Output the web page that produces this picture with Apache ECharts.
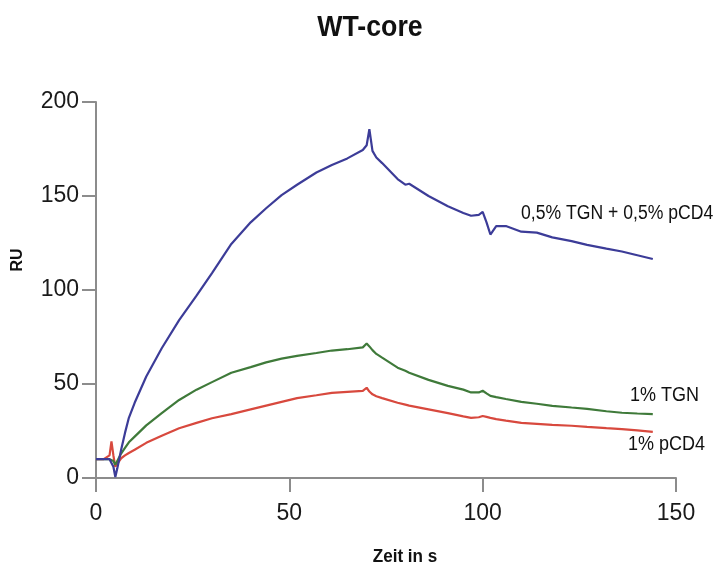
<!DOCTYPE html>
<html>
<head>
<meta charset="utf-8">
<script src="https://cdn.jsdelivr.net/npm/echarts@6/dist/echarts.min.js"></script>
<style>html,body{margin:0;padding:0;background:#fff}#c{width:722px;height:568px}</style>
</head>
<body>
<div id="c"></div>
<script>
var timeS = [0, 2, 3.5, 4, 4.5, 5, 5.5, 6, 6.5, 7.5, 8.5, 10, 13, 17, 21.5, 26, 30, 35, 40, 44, 48, 52, 57, 61, 65, 69, 70, 70.7, 71.5, 72.5, 74, 78, 80, 81, 86, 91, 95, 97, 99, 100, 101, 102, 103.5, 106, 110, 114, 118, 123, 127, 132, 136, 140, 144];
var mixRU = [10, 10, 10, 9.5, 6, 0.5, 5, 10, 15, 24, 32, 40, 54, 69, 84, 97, 109, 124.5, 136, 143.5, 150.5, 156, 162.5, 166.5, 170, 174.5, 177, 185.5, 174, 170.5, 167.5, 159, 156, 156.5, 150, 144.5, 141, 139.5, 140, 141.5, 136, 129.5, 134, 134, 131, 130.5, 128, 126, 124, 122, 120.5, 118.5, 116.5];
var tgnRU = [10, 10, 10, 10, 9, 7, 8, 11, 13, 16, 19, 22, 28, 34.5, 41.5, 47, 51, 56, 59, 61.5, 63.5, 65, 66.5, 67.8, 68.5, 69.5, 71.5, 70, 68, 66, 64, 58.7, 57, 56, 52.2, 49, 47, 45.5, 45.5, 46.4, 45, 43.7, 43, 42, 40.5, 39.5, 38.4, 37.5, 36.8, 35.5, 34.7, 34.3, 34];
var pcd4RU = [10, 10, 12, 19.5, 12, 6, 7, 9, 10.5, 12, 13.3, 15, 18.7, 22.5, 26.5, 29.3, 31.8, 34, 36.5, 38.5, 40.5, 42.5, 44, 45.3, 45.8, 46.3, 48, 46, 44.5, 43.5, 42.5, 40, 39, 38.5, 36.5, 34.5, 32.8, 32, 32.3, 33, 32.5, 32, 31.3, 30.5, 29.3, 28.8, 28.3, 27.8, 27.2, 26.5, 26, 25.3, 24.5];
var seriesNames = ['0,5% TGN + 0,5% pCD4', '1% TGN', '1% pCD4'];
var xTicks = [0, 50, 100, 150];
var yTicks = [0, 50, 100, 150, 200];

function pairs(vals){ return timeS.map(function(t,i){ return [t, vals[i]]; }); }

var FONT = "'Liberation Sans', Arial, sans-serif";
var axisGray = '#8c8c8c';
var chart = echarts.init(document.getElementById('c'), null, {renderer:'canvas'});
var colors = ['#3c3c98', '#3f7a3a', '#d8493e'];
var data = [mixRU, tgnRU, pcd4RU];
function label(text, x, y, font, sx, align, rot){
  return {type: 'text', x: x, y: y, scaleX: sx, rotation: rot || 0,
    style: {text: text, font: font, fill: '#111', align: align || 'left', verticalAlign: 'middle'}};
}
chart.setOption({
  animation: false,
  backgroundColor: '#fff',
  grid: {left: 96, right: 46, top: 102, bottom: 90},
  xAxis: {
    type: 'value', min: xTicks[0], max: xTicks[xTicks.length-1], interval: 50,
    axisLine: {lineStyle: {color: axisGray, width: 2}},
    axisTick: {inside: false, length: 14, lineStyle: {color: axisGray, width: 2}},
    axisLabel: {margin: 24, fontFamily: FONT, fontSize: 23, color: '#1a1a1a'},
    splitLine: {show: false}
  },
  yAxis: {
    type: 'value', min: yTicks[0], max: yTicks[yTicks.length-1], interval: 50,
    axisLine: {show: true, lineStyle: {color: axisGray, width: 2}},
    axisTick: {show: true, inside: false, length: 14, lineStyle: {color: axisGray, width: 2}},
    axisLabel: {margin: 17, fontFamily: FONT, fontSize: 23, color: '#1a1a1a'},
    splitLine: {show: false}
  },
  series: data.map(function(d, i){
    return {
      name: seriesNames[i], type: 'line', data: pairs(d), showSymbol: false, smooth: false,
      lineStyle: {color: colors[i], width: 2.2}, z: 3 - i
    };
  }),
  graphic: [
    label('WT-core', 370, 28, 'bold 30px ' + FONT, 0.89, 'center'),
    label(seriesNames[0], 521, 213, '20px ' + FONT, 0.88),
    label(seriesNames[1], 630, 395, '20px ' + FONT, 0.9),
    label(seriesNames[2], 628, 444, '20px ' + FONT, 0.9),
    label('Zeit in s', 405, 557, 'bold 18px ' + FONT, 0.95, 'center'),
    label('RU', 18, 260, 'bold 16px ' + FONT, 1, 'center', Math.PI/2)
  ]
});
</script>
</body>
</html>
